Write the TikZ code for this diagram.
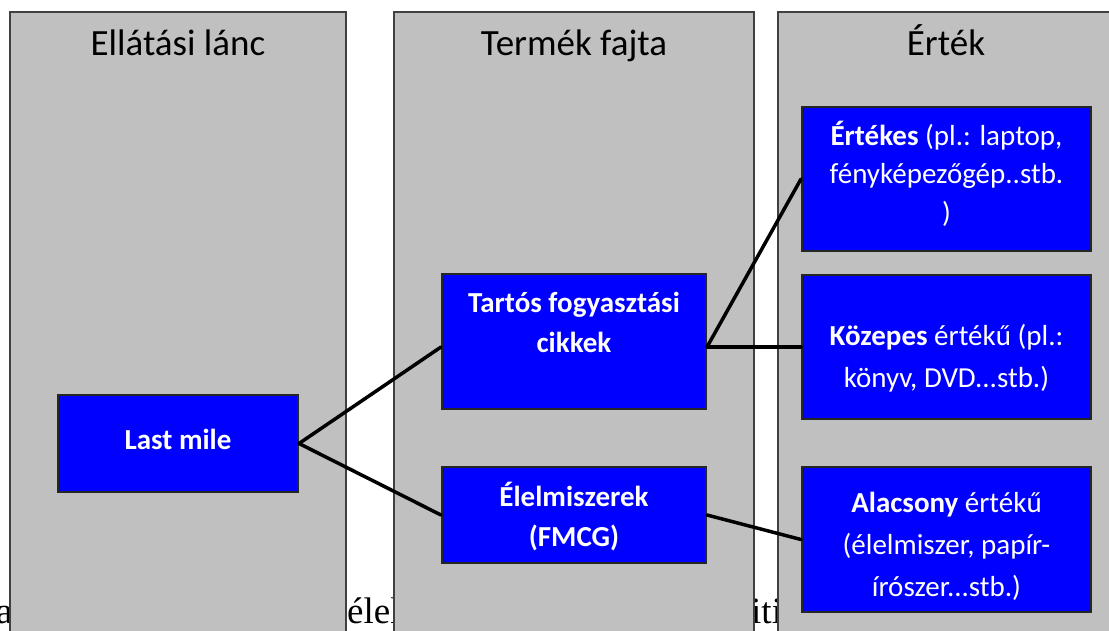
\documentclass[tikz,border=0pt]{standalone}
\usepackage{fontspec}
\setmainfont{Carlito}
\newfontfamily\pagefont{Liberation Serif}
\usetikzlibrary{positioning,calc}

\definecolor{colgray}{HTML}{C0C0C0}
\definecolor{colborder}{HTML}{404040}
\definecolor{boxblue}{HTML}{0000FF}

\tikzset{
  column/.style={draw=colborder, line width=1.5pt, fill=colgray, minimum height=660pt, anchor=north, inner sep=0pt},
  coltitle/.style={anchor=base, font=\fontsize{37}{44}\selectfont},
  bluebox/.style={draw=black!85, line width=2pt, fill=boxblue, inner sep=0pt},
  boxtext/.style={anchor=base, text=white, align=center, inner sep=0pt, font=\fontsize{29}{40}\selectfont},
  link/.style={line width=3.5pt, line cap=round},
  pagetext/.style={anchor=base west, inner sep=0pt, font=\pagefont\fontsize{37}{44}\selectfont}
}

\begin{document}
\begin{tikzpicture}[x=1pt,y=-1pt]
\useasboundingbox (0,0) rectangle (1109,630);
\clip (0,0) rectangle (1109,630);

% page text behind the columns
\node[pagetext] (pagea) at (-4,623) {ac};
\node[pagetext] (pageb) at (347,623) {élelm};
\node[pagetext] (pagec) at (751,623) {iti};

% columns and their titles
\foreach \name/\x/\w/\title in {chain/178/336/Ellátási lánc, product/574/360/Termék fajta, value/946/336/Érték} {
  \node[column, minimum width=\w pt] (\name) at (\x,11) {};
  \node[coltitle] (\name-title) at ($(\name.north)+(0,44)$) {\title};
}

% boxes
\node[bluebox, minimum width=240pt, minimum height=97pt] (lastmile) at (178,443.5) {};
\node[bluebox, minimum width=264pt, minimum height=135pt] (tartos) at (574,341.5) {};
\node[bluebox, minimum width=264pt, minimum height=96pt] (elel) at (574,515) {};
\node[bluebox, minimum width=289pt, minimum height=144pt] (ertekes) at (946.5,179) {};
\node[bluebox, minimum width=289pt, minimum height=144pt] (kozepes) at (946.5,347) {};
\node[bluebox, minimum width=289pt, minimum height=145pt] (alacsony) at (946.5,539.5) {};

% texts (base is the last line)
\node[boxtext] (lastmile-text) at ($(lastmile.north)+(0,55)$) {\textbf{Last mile}};
\node[boxtext] (tartos-text) at ($(tartos.north)+(0,79)$) {\textbf{Tartós fogyasztási}\\\textbf{cikkek}};
\node[boxtext] (elel-text) at ($(elel.north)+(0,80)$) {\textbf{Élelmiszerek}\\\textbf{(FMCG)}};
\node[boxtext, font=\fontsize{29}{38.5}\selectfont] (ertekes-text) at ($(ertekes.north)+(0,116)$) {\textbf{Értékes} (pl.: laptop,\\fényképezőgép..stb.\\)};
\node[boxtext, font=\fontsize{29}{42}\selectfont] (kozepes-text) at ($(kozepes.north)+(0,113)$) {\textbf{Közepes} értékű (pl.:\\könyv, DVD...stb.)};
\node[boxtext, font=\fontsize{29}{42}\selectfont] (alacsony-text) at ($(alacsony.north)+(0,130)$) {\textbf{Alacsony} értékű\\(élelmiszer, papír-\\írószer...stb.)};

% connectors
\coordinate (tartos-in) at (tartos.west |- kozepes.west);
\coordinate (tartos-out) at (tartos.east |- kozepes.west);
\draw[link] (lastmile.east) -- (tartos-in);
\draw[link] (lastmile.east) -- (elel.west);
\draw[link] (tartos-out) -- (ertekes.west);
\draw[link] (tartos-out) -- (kozepes.west);
\draw[link] (elel.east) -- (alacsony.west);

\end{tikzpicture}
\end{document}
